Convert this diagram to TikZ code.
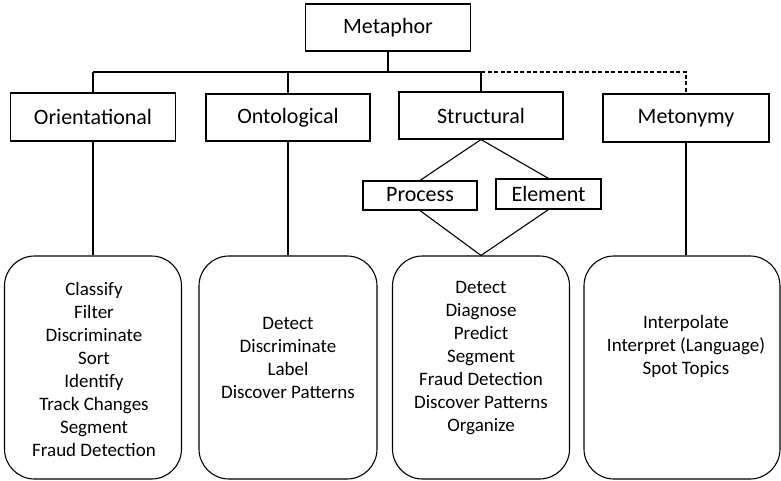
\documentclass[tikz,border=0pt]{standalone}
\usepackage{fontspec}
\setmainfont{Carlito}

\begin{document}
\begin{tikzpicture}[x=1pt,y=-1pt,line width=1.1pt,
  titlebox/.style={rectangle,draw,inner sep=0pt,font=\fontsize{22}{26}\selectfont},
  smallbox/.style={rectangle,draw,fill=white,inner sep=0pt,font=\fontsize{22}{26}\selectfont},
  listbox/.style={rectangle,draw,rounded corners=30pt,inner sep=0pt,minimum width=177pt,minimum height=223pt},
  listtext/.style={align=center,inner sep=0pt,font=\fontsize{19}{23}\selectfont}]
\useasboundingbox (0,0) rectangle (781,481);
\begin{scope}[every node/.style={titlebox}]
\node[minimum width=165pt,minimum height=47pt] (meta) at (388,27.5) {Metaphor};
\node[minimum width=165pt,minimum height=48pt] (ori) at (93,117) {Orientational};
\node[minimum width=164pt,minimum height=47pt] (ont) at (288,117.5) {Ontological};
\node[minimum width=164pt,minimum height=47pt] (str) at (481,115.5) {Structural};
\node[minimum width=166pt,minimum height=48pt] (meto) at (686,118) {Metonymy};
\end{scope}
\coordinate (jl) at (93,72);
\coordinate (jo) at (288,72);
\coordinate (jm) at (388,72);
\coordinate (js) at (481,72);
\coordinate (jr) at (686,72);
\draw (meta.south) -- (jm);
\draw (jl) -- (js);
\draw[dash pattern=on 4pt off 2.5pt] (js) -- (jr) -- (meto.north);
\draw (jl) -- (ori.north);
\draw (jo) -- (ont.north);
\draw (js) -- (str.north);
% list boxes
\node[listbox] (b1) at (93,367.5) {};
\node[listbox,minimum width=178pt] (b2) at (288,367.5) {};
\node[listbox] (b3) at (481,367.5) {};
\node[listbox,minimum width=196pt] (b4) at (682,367.5) {};
\node[listtext] (t1) at (94,369.5) {Classify\\Filter\\Discriminate\\Sort\\Identify\\Track Changes\\Segment\\Fraud Detection};
\node[listtext] (t2) at (288,358) {Detect\\Discriminate\\Label\\Discover Patterns};
\node[listtext] (t3) at (481,358) {Detect\\Diagnose\\Predict\\Segment\\Fraud Detection\\Discover Patterns\\Organize};
\node[listtext] (t4) at (686,346.5) {Interpolate\\Interpret (Language)\\Spot Topics};
\draw (ori.south) -- (b1.north);
\draw (ont.south) -- (b2.north);
\draw (meto.south) -- (meto.south |- b4.north);
% diamond under Structural
\node[smallbox,minimum width=114pt,minimum height=29pt,text depth=2pt,yshift=-1pt] (proc) at (420,194.5) {Process};
\node[smallbox,minimum width=105pt,minimum height=30pt] (elem) at (548.5,194) {Element};
\draw (str.south) -- (proc.north);
\draw (str.south) -- (elem.north);
\draw (proc.south) -- (b3.north);
\draw (elem.south) -- (b3.north);
\end{tikzpicture}
\end{document}
